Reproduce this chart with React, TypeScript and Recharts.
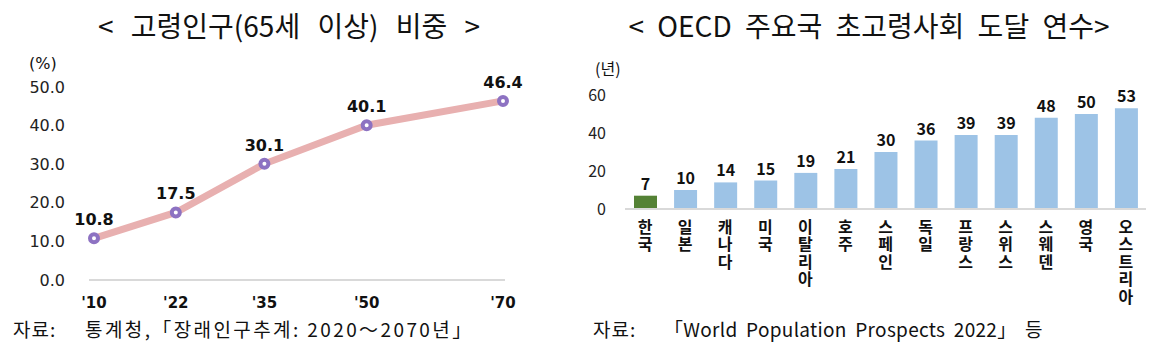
import { LineChart, Line, BarChart, Bar, Cell, XAxis, YAxis, LabelList } from 'recharts';

const years = [2010, 2022, 2035, 2050, 2070];
const elderlyShare = [10.8, 17.5, 30.1, 40.1, 46.4];
const shareTicks = [0, 10, 20, 30, 40, 50];

const countries = ['한국', '일본', '캐나다', '미국', '이탈리아', '호주', '스페인', '독일', '프랑스', '스위스', '스웨덴', '영국', '오스트리아'];
const transitionYears = [7, 10, 14, 15, 19, 21, 30, 36, 39, 39, 48, 50, 53];
const yearTicks = [0, 20, 40, 60];

const lineData = years.map((year, i) => ({ year, share: elderlyShare[i] }));
const barData = countries.map((name, i) => ({ name, years: transitionYears[i] }));

const krFont = '"Noto Sans CJK KR", "Noto Sans", sans-serif';
const numFont = '"DejaVu Sans", Verdana, sans-serif';

function Ring(props: any) {
  const { cx, cy } = props;
  return <circle cx={cx} cy={cy} r={4} fill="#fff" stroke="#8d72c2" strokeWidth={4} />;
}

function VerticalTick(props: any) {
  const { x, y, payload } = props;
  const chars = Array.from(String(payload.value));
  return (
    <g>
      {chars.map((c, i) => (
        <text key={i} x={x} y={y + 18 + i * 17.5} dy="0.35em" textAnchor="middle" fill="#111" fontFamily={krFont} fontWeight={700} fontSize={16}>
          {c}
        </text>
      ))}
    </g>
  );
}

const titleStyle = { position: 'absolute' as const, top: 5, textAlign: 'center' as const, fontSize: 28, fontWeight: 400, lineHeight: '40px', whiteSpace: 'pre' as const };
const footStyle = { position: 'absolute' as const, top: 315, fontSize: 19, lineHeight: '28px', whiteSpace: 'pre' as const };

export default function App() {
  return (
    <div style={{ position: 'absolute', left: 0, top: 0, width: 1162, height: 345, background: '#fff', fontFamily: krFont, color: '#111' }}>
      <div style={{ ...titleStyle, left: 0, width: 578, wordSpacing: 11 }}>{'< 고령인구(65세 이상) 비중 >'}</div>
      <div style={{ ...titleStyle, left: 580, width: 578, wordSpacing: 7 }}>{'< OECD 주요국 초고령사회 도달 연수>'}</div>

      <div style={{ position: 'absolute', left: 29, top: 54, fontSize: 16, fontFamily: numFont }}>(%)</div>
      <div style={{ position: 'absolute', left: 595, top: 56, fontSize: 16 }}>(년)</div>

      <div style={{ position: 'absolute', left: 0, top: 0 }}>
        <LineChart width={580} height={345} data={lineData} margin={{ top: 87, right: 75, bottom: 35, left: 0 }}>
          <XAxis
            dataKey="year"
            type="number"
            domain={[2010, 2070]}
            ticks={years}
            padding={{ left: 5, right: 2 }}
            height={30}
            axisLine={{ stroke: '#d9d9d9', strokeWidth: 2 }}
            tickLine={false}
            tickSize={0}
            tickMargin={17}
            tickFormatter={(v: number) => "'" + String(v).slice(2)}
            tick={{ fill: '#111', fontSize: 15, fontWeight: 700, fontFamily: numFont }}
          />
          <YAxis
            domain={[0, 50]}
            ticks={shareTicks}
            width={89}
            axisLine={false}
            tickLine={false}
            tickSize={0}
            tickMargin={24}
            tickFormatter={(v: number) => v.toFixed(1)}
            tick={{ fill: '#222', fontSize: 16, fontFamily: numFont }}
          />
          <Line
            dataKey="share"
            type="linear"
            stroke="#e8b0b0"
            strokeWidth={7}
            dot={<Ring />}
            activeDot={false}
            isAnimationActive={false}
          >
            <LabelList
              dataKey="share"
              position="top"
              offset={13}
              formatter={(v: number) => v.toFixed(1)}
              style={{ fill: '#111', fontSize: 16, fontWeight: 700, fontFamily: numFont }}
            />
          </Line>
        </LineChart>
      </div>

      <div style={{ position: 'absolute', left: 580, top: 0 }}>
        <BarChart width={582} height={345} data={barData} margin={{ top: 95, right: 16, bottom: 26, left: 0 }}>
          <XAxis
            dataKey="name"
            height={110}
            interval={0}
            axisLine={{ stroke: '#d9d9d9', strokeWidth: 2 }}
            tickLine={false}
            tickSize={0}
            tickMargin={0}
            tick={<VerticalTick />}
          />
          <YAxis
            domain={[0, 60]}
            ticks={yearTicks}
            width={45}
            axisLine={false}
            tickLine={false}
            tickSize={0}
            tickMargin={19}
            tick={{ fill: '#222', fontSize: 16, fontFamily: krFont }}
          />
          <Bar dataKey="years" barSize={23} isAnimationActive={false}>
            {barData.map((d, i) => (
              <Cell key={d.name} fill={i === 0 ? '#548235' : '#9dc3e6'} />
            ))}
            <LabelList
              dataKey="years"
              position="top"
              offset={6}
              style={{ fill: '#111', fontSize: 16, fontWeight: 700, fontFamily: krFont }}
            />
          </Bar>
        </BarChart>
      </div>

      <div style={{ ...footStyle, left: 13, letterSpacing: 1 }}>자료:</div>
      <div style={{ ...footStyle, left: 85, letterSpacing: 2.4 }}>통계청,「장래인구추계: 2020～2070년」</div>
      <div style={{ ...footStyle, left: 593, letterSpacing: 1 }}>자료:</div>
      <div style={{ ...footStyle, left: 664, letterSpacing: 0.3, wordSpacing: 4 }}>「World Population Prospects 2022」 등</div>
    </div>
  );
}
